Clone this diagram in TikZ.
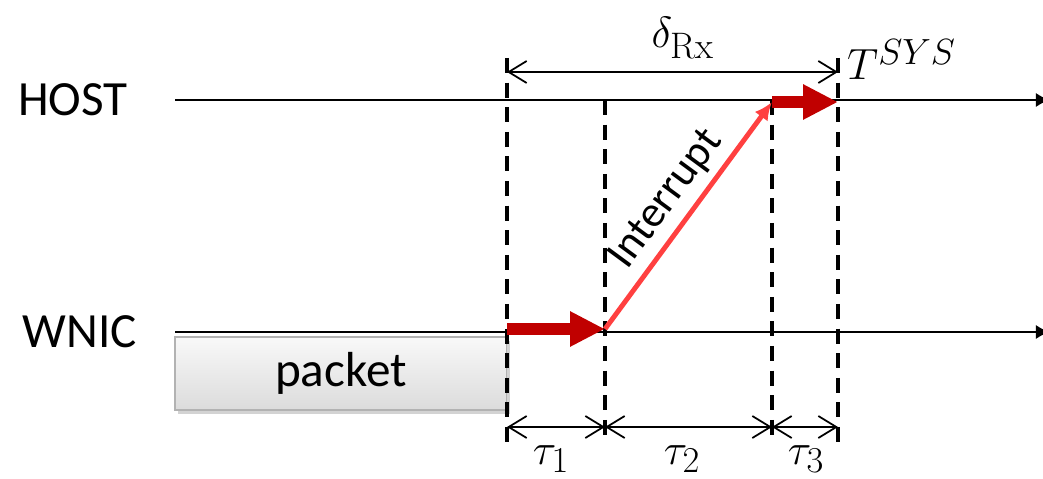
\documentclass[tikz,border=0pt]{standalone}
\usepackage{amsmath}
\usepackage{fontspec}
\newfontfamily\labelfont{Carlito}
\usepackage{tikz}
\usetikzlibrary{arrows.meta,shadows}

\definecolor{hopred}{HTML}{C00000}
\definecolor{irqred}{HTML}{FF4040}

\begin{document}
\begin{tikzpicture}[x=0.02cm,y=-0.02cm,
    lbl/.style={font=\labelfont\fontsize{28}{32}\selectfont},
    mth/.style={font=\fontsize{30}{34}\selectfont},
    axis/.style={line width=1.1pt,-{Latex[length=8pt,width=8pt]}},
    guide/.style={line width=2.2pt,dash pattern=on 8.5pt off 5.5pt},
    span/.style={line width=1pt,
        {Straight Barb[length=0.36cm,width=0.44cm]}-{Straight Barb[length=0.36cm,width=0.44cm]}},
    hop/.style={draw=hopred,line width=6.8pt,-{Triangle[length=0.7cm,width=0.66cm]}},
    irq/.style={draw=irqred,line width=2.8pt,-{Latex[length=0.36cm,width=0.32cm]}},
    packetbox/.style={draw=gray!60,line width=0.6pt,top color=gray!5,bottom color=gray!28,
        drop shadow={shadow xshift=1.5pt,shadow yshift=-2pt,opacity=0.35},
        minimum width=6.64cm,minimum height=1.46cm,anchor=north west,inner sep=0pt,outer sep=0pt}]
    \useasboundingbox (0,0) rectangle (1043,479);

    % time lines
    \node[lbl] at(73,100)(host){HOST};
    \node[lbl] at(80,332)(wnic){WNIC};
    \coordinate (hs) at (175,100);
    \coordinate (he) at (1050,100);
    \coordinate (ws) at (175,332);
    \coordinate (we) at (1050,332);
    \draw[axis] (hs) -- (he);
    \draw[axis] (ws) -- (we);

    \node[packetbox,lbl] at(175,337)(packet){packet};

    % instants
    \foreach\n/\x/\top/\bot in{a/507/58/442,b/605/100/440,c/772/100/437,d/838/58/442}{
        \coordinate (top\n) at (\x,\top);
        \coordinate (bot\n) at (\x,\bot);
        \coordinate (h\n) at (\x,102);
        \coordinate (w\n) at (\x,329);
        \coordinate (dl\n) at (\x,72);
        \coordinate (tl\n) at (\x,427);
        \draw[guide] (top\n) -- (bot\n);
    }

    % delays
    \draw[span] (dla) -- (dld);
    \node[mth,anchor=base] at(683,48)(delta){$\delta_{\mathrm{Rx}}$};
    \node[mth,anchor=base west] at(841,80)(tsys){$T^{SYS}$};
    \draw[span] (tla) -- (tlb);
    \draw[span] (tlb) -- (tlc);
    \draw[span] (tlc) -- (tld);
    \node[mth,anchor=base,inner ysep=1pt] at(551,464)(tau1){$\tau_1$};
    \node[mth,anchor=base,inner ysep=1pt] at(682,464)(tau2){$\tau_2$};
    \node[mth,anchor=base,inner ysep=1pt] at(806,464)(tau3){$\tau_3$};

    % processing
    \draw[hop] (wa) -- (wb);
    \draw[irq] (wb) -- (hc) node[midway,sloped,above,lbl,font=\labelfont\fontsize{25}{30}\selectfont,inner sep=4pt](irq){Interrupt};
    \draw[hop] (hc) -- (hd);
\end{tikzpicture}
\end{document}
